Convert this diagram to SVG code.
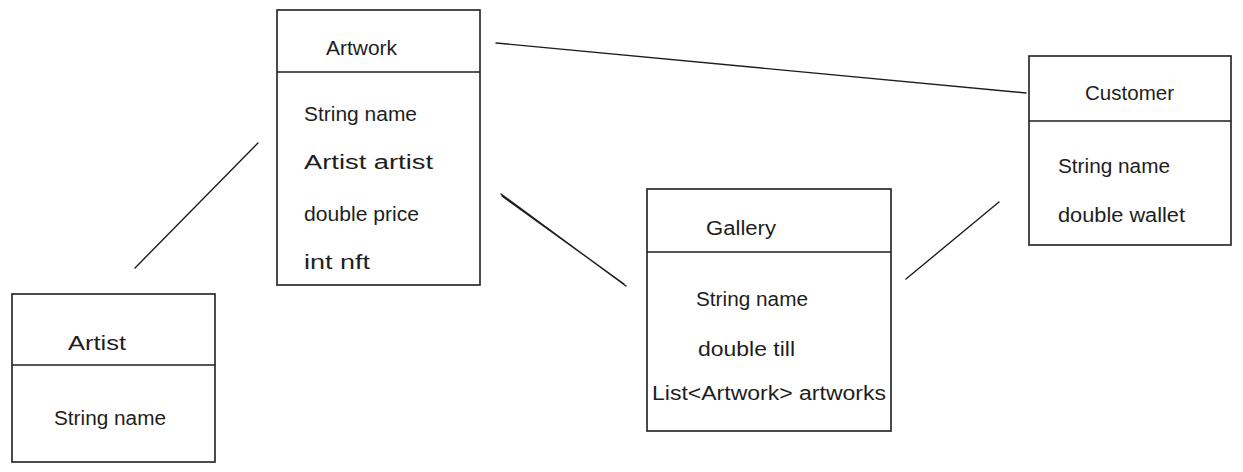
<svg xmlns="http://www.w3.org/2000/svg" width="1243" height="472" viewBox="0 0 1243 472">
<style>
.box{fill:#fff;stroke:#1e1e1e;stroke-width:1.6}
.div{stroke:#1e1e1e;stroke-width:1.6;fill:none}
.ln{stroke:#1e1e1e;stroke-width:1.4;fill:none;stroke-linecap:round}
text{font-family:"Liberation Sans",Arial,sans-serif;font-size:20px;fill:#1e1e1e}
</style>
<rect width="1243" height="472" fill="#fff"/>
<g id="connectors">
<path class="ln" d="M135 268 L258 143"/>
<path class="ln" d="M501 194 L626 286 M502 196 L624 284"/>
<path class="ln" d="M496 43 L1026 93"/>
<path class="ln" d="M906 279 L999 202"/>
</g>
<g id="artwork">
<rect class="box" x="277" y="10" width="203" height="275"/>
<path class="div" d="M277 72 L480 72"/>
<text x="326" y="55" textLength="71" lengthAdjust="spacingAndGlyphs">Artwork</text>
<text x="304" y="121" textLength="113" lengthAdjust="spacingAndGlyphs">String name</text>
<text x="304" y="169" textLength="129" lengthAdjust="spacingAndGlyphs">Artist artist</text>
<text x="304" y="221" textLength="115" lengthAdjust="spacingAndGlyphs">double price</text>
<text x="304" y="269" textLength="66" lengthAdjust="spacingAndGlyphs">int nft</text>
</g>
<g id="artist">
<rect class="box" x="12" y="294" width="203" height="168"/>
<path class="div" d="M12 365 L215 365"/>
<text x="68" y="350" textLength="58" lengthAdjust="spacingAndGlyphs">Artist</text>
<text x="54" y="425" textLength="112" lengthAdjust="spacingAndGlyphs">String name</text>
</g>
<g id="gallery">
<rect class="box" x="647" y="189" width="244" height="242"/>
<path class="div" d="M647 252 L891 252"/>
<text x="706" y="235" textLength="70" lengthAdjust="spacingAndGlyphs">Gallery</text>
<text x="696" y="306" textLength="112" lengthAdjust="spacingAndGlyphs">String name</text>
<text x="698" y="356" textLength="97" lengthAdjust="spacingAndGlyphs">double till</text>
<text x="652" y="400" textLength="234" lengthAdjust="spacingAndGlyphs">List&lt;Artwork&gt; artworks</text>
</g>
<g id="customer">
<rect class="box" x="1029" y="56" width="202" height="189"/>
<path class="div" d="M1029 121 L1231 121"/>
<text x="1085" y="100" textLength="89" lengthAdjust="spacingAndGlyphs">Customer</text>
<text x="1058" y="173" textLength="112" lengthAdjust="spacingAndGlyphs">String name</text>
<text x="1058" y="222" textLength="127" lengthAdjust="spacingAndGlyphs">double wallet</text>
</g>
</svg>
